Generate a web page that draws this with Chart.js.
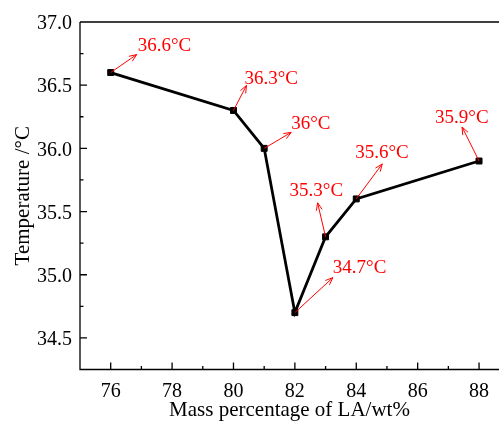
<!DOCTYPE html>
<html>
<head>
<meta charset="utf-8">
<script src="https://cdn.jsdelivr.net/npm/chart.js@4/dist/chart.umd.min.js"></script>
<style>
  html, body { margin: 0; padding: 0; background: #fff; }
  #wrap { width: 499px; height: 423px; }
</style>
</head>
<body>
<div id="wrap"><canvas id="chart" width="499" height="423"></canvas></div>
<script>
// data
const massLA = [76, 80, 81, 82, 83, 84, 88];
const temps = [36.6, 36.3, 36.0, 34.7, 35.3, 35.6, 35.9];
const xTicks = [76, 78, 80, 82, 84, 86, 88];
const xMinorTicks = [77, 79, 81, 83, 85, 87];
const yTicks = [34.5, 35.0, 35.5, 36.0, 36.5, 37.0];
const yMinorTicks = [34.75, 35.25, 35.75, 36.25, 36.75];

// callout placement (pixels from the point): arrow tip, text left / middle
const callouts = [
  { ax: 26, ay: -18, tx: 27, ty: -28 },
  { ax: 13, ay: -25, tx: 11, ty: -33 },
  { ax: 27, ay: -16, tx: 27, ty: -26 },
  { ax: 38, ay: -35, tx: 38, ty: -46 },
  { ax: -8, ay: -34, tx: -36, ty: -47 },
  { ax: 26, ay: -35, tx: -1, ty: -47 },
  { ax: -17, ay: -34, tx: -44, ty: -45 }
];

const serif = "'Liberation Serif', 'Times New Roman', serif";
Chart.defaults.font.family = serif;

// axes frame, inward ticks and red callouts
const framePlugin = {
  id: "frame",
  afterDraw(chart) {
    const { ctx, chartArea: a, scales: { x, y } } = chart;
    ctx.save();
    ctx.strokeStyle = "#000";
    ctx.lineWidth = 1.3;
    ctx.beginPath();
    ctx.moveTo(a.left, a.top);
    ctx.lineTo(a.right, a.top);
    ctx.moveTo(a.left, a.top);
    ctx.lineTo(a.left, a.bottom);
    ctx.lineTo(a.right, a.bottom);
    xTicks.forEach(v => { const px = x.getPixelForValue(v); ctx.moveTo(px, a.bottom); ctx.lineTo(px, a.bottom - 7); });
    xMinorTicks.forEach(v => { const px = x.getPixelForValue(v); ctx.moveTo(px, a.bottom); ctx.lineTo(px, a.bottom - 3.5); });
    yTicks.forEach(v => { const py = y.getPixelForValue(v); ctx.moveTo(a.left, py); ctx.lineTo(a.left + 7, py); });
    yMinorTicks.forEach(v => { const py = y.getPixelForValue(v); ctx.moveTo(a.left, py); ctx.lineTo(a.left + 3.5, py); });
    ctx.stroke();

    ctx.strokeStyle = "#ff0000";
    ctx.fillStyle = "#ff0000";
    ctx.lineWidth = 1;
    ctx.font = "19px " + serif;
    ctx.textBaseline = "alphabetic";
    ctx.textAlign = "left";
    const meta = chart.getDatasetMeta(0);
    meta.data.forEach((pt, i) => {
      const c = callouts[i];
      const x0 = pt.x, y0 = pt.y, x1 = pt.x + c.ax, y1 = pt.y + c.ay;
      const ang = Math.atan2(y1 - y0, x1 - x0);
      const h = 8, spread = 0.38;
      ctx.beginPath();
      ctx.moveTo(x0, y0);
      ctx.lineTo(x1, y1);
      ctx.moveTo(x1 - h * Math.cos(ang - spread), y1 - h * Math.sin(ang - spread));
      ctx.lineTo(x1, y1);
      ctx.lineTo(x1 - h * Math.cos(ang + spread), y1 - h * Math.sin(ang + spread));
      ctx.stroke();
      ctx.fillText(temps[i] + "°C", pt.x + c.tx, pt.y + c.ty + 6.5);
    });
    ctx.restore();
  }
};

new Chart(document.getElementById("chart"), {
  type: "line",
  data: {
    labels: massLA,
    datasets: [{
      data: massLA.map((m, i) => ({ x: m, y: temps[i] })),
      borderColor: "#000",
      borderWidth: 2.8,
      tension: 0,
      pointStyle: "rect",
      pointRadius: 4.2,
      pointBorderWidth: 1,
      pointBackgroundColor: "#000",
      pointBorderColor: "#000",
      clip: false
    }]
  },
  options: {
    responsive: false,
    animation: false,
    layout: { autoPadding: false, padding: { top: 22, right: 0, left: 0, bottom: 0 } },
    plugins: { legend: { display: false }, tooltip: { enabled: false } },
    scales: {
      x: {
        type: "linear",
        min: 75,
        max: 88.65,
        afterBuildTicks: s => { s.ticks = xTicks.map(v => ({ value: v })); },
        afterFit: s => { s.height = 53.5; s.paddingLeft = 0; s.paddingRight = 0; },
        grid: { display: false, drawTicks: false },
        border: { display: false },
        ticks: { color: "#000", font: { family: serif, size: 20 }, padding: 10, maxRotation: 0 },
        title: { display: true, text: "Mass percentage of LA/wt%", color: "#000", font: { family: serif, size: 21 }, padding: { top: 0, bottom: 0.4 } }
      },
      y: {
        min: 34.25,
        max: 37,
        afterBuildTicks: s => { s.ticks = yTicks.map(v => ({ value: v })); },
        afterFit: s => { s.width = 80; s.paddingTop = 0; s.paddingBottom = 0; },
        grid: { display: false, drawTicks: false },
        border: { display: false },
        ticks: { color: "#000", font: { family: serif, size: 20 }, padding: 8, labelOffset: 2, callback: v => v.toFixed(1) },
        title: { display: true, text: "Temperature /°C", color: "#000", font: { family: serif, size: 21 }, padding: { top: 10.4, bottom: 0 } }
      }
    }
  },
  plugins: [framePlugin]
});
</script>
</body>
</html>
